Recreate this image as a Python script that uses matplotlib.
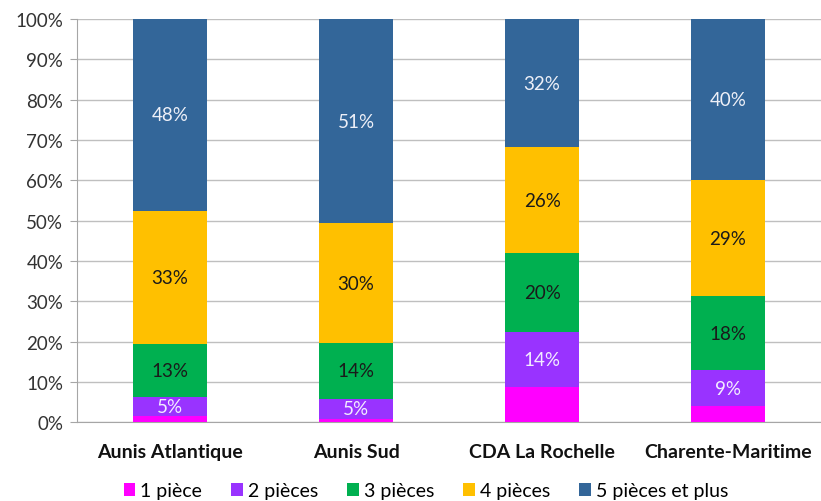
import matplotlib
matplotlib.use('Agg')
import matplotlib.pyplot as plt
import numpy as np

plt.rcParams.update({
    'font.family': ['Lato', 'DejaVu Sans'],
    'axes.unicode_minus': False,
})

CATEGORIES = ["Aunis Atlantique", "Aunis Sud", "CDA La Rochelle", "Charente-Maritime"]
SERIES = ["1 pièce", "2 pièces", "3 pièces", "4 pièces", "5 pièces et plus"]

# shares in % per category
UNE_PIECE = [1.6, 0.8, 8.7, 3.9]
DEUX_PIECES = [4.6, 5.0, 13.6, 9.1]
TROIS_PIECES = [13.2, 13.9, 19.7, 18.2]
QUATRE_PIECES = [33.1, 29.6, 26.2, 28.9]
CINQ_PLUS = [47.5, 50.7, 31.8, 39.9]

COLORS = ["#FF00FF", "#9933FF", "#00B050", "#FFC000", "#336699"]
LABEL_COLORS = [None, "#F2ECFF", "#1a1a1a", "#1a1a1a", "#EEF0F8"]

values = [UNE_PIECE, DEUX_PIECES, TROIS_PIECES, QUATRE_PIECES, CINQ_PLUS]

fig = plt.figure(figsize=(8.21, 5.02), dpi=100)
ax = fig.add_axes([0.094, 0.157, 0.906, 0.803])

x = np.arange(len(CATEGORIES))
width = 0.4
bottoms = np.zeros(len(CATEGORIES))
for i, (name, vals) in enumerate(zip(SERIES, values)):
    vals = np.array(vals)
    ax.bar(x, vals, width, bottom=bottoms, color=COLORS[i], label=name,
           zorder=3, linewidth=0)
    if LABEL_COLORS[i] is not None:
        for xi, b, v in zip(x, bottoms, vals):
            ax.text(xi, b + v / 2, f"{v:.0f}%", ha='center', va='center',
                    fontsize=13.5, color=LABEL_COLORS[i], zorder=4)
    bottoms += vals

ax.set_xlim(-0.5, 3.5)
ax.set_ylim(0, 100)
ax.set_yticks(np.arange(0, 101, 10))
ax.set_yticklabels([f"{t}%" for t in range(0, 101, 10)], fontsize=13.5, color="#333333")
ax.set_xticks(x)
ax.set_xticklabels(CATEGORIES, fontsize=14, fontweight='bold', color="#111111")
ax.tick_params(axis='x', length=0, pad=15)
ax.tick_params(axis='y', length=5, color="#A6A6A6", pad=5)
ax.yaxis.grid(True, color="#BFBFBF", linewidth=1.0, zorder=0)
ax.set_axisbelow(True)
for s in ['top', 'right']:
    ax.spines[s].set_visible(False)
ax.spines['left'].set_color("#A6A6A6")
ax.spines['bottom'].set_color("#A6A6A6")

ax.legend(loc='upper center', bbox_to_anchor=(0.469, -0.13), ncol=5, frameon=False,
          fontsize=14, handlelength=0.6, handleheight=0.6, handletextpad=0.25,
          columnspacing=1.5, borderaxespad=0)

fig.savefig("out.png", dpi=100)
